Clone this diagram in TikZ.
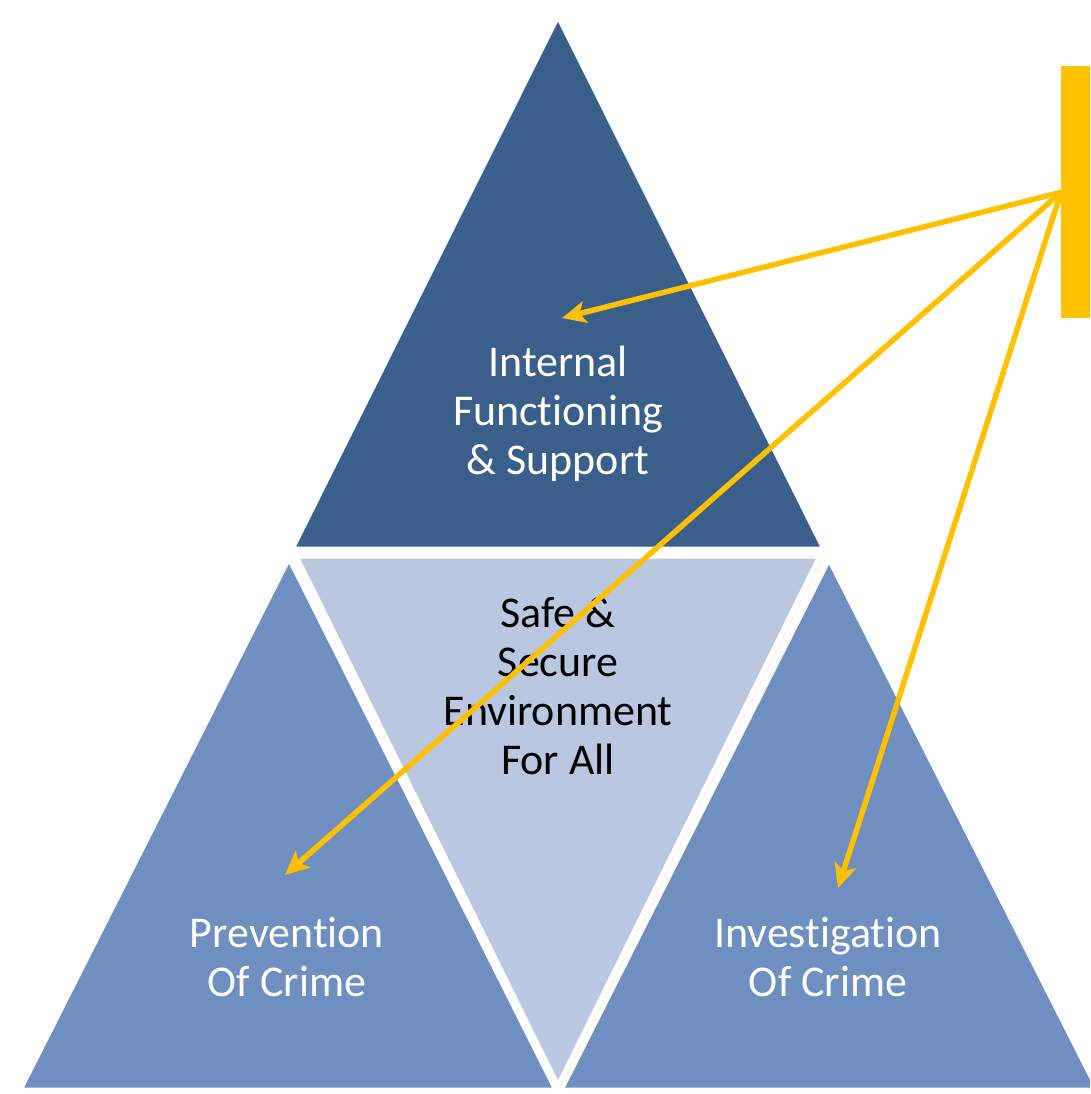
\documentclass[tikz,border=0pt]{standalone}
\usepackage{fontspec}
\setmainfont{Carlito}[RawFeature={-liga;-clig;-calt}]
\usetikzlibrary{arrows.meta,shadows}
\definecolor{topblue}{RGB}{58,95,139}
\definecolor{sideblue}{RGB}{111,143,192}
\definecolor{paleblue}{RGB}{185,199,224}
\definecolor{gold}{RGB}{255,192,0}
\tikzset{
  tri/.style={draw=white, line width=0.1cm, line join=miter,
    drop shadow={opacity=0.12, shadow xshift=0.05cm, shadow yshift=-0.05cm}},
  lbl/.style={align=center, font=\fontsize{25}{28}\selectfont},
  arr/.style={-{Stealth[length=0.48cm, width=0.44cm, inset=0.12cm]}, draw=gold, line width=0.11cm},
}
\begin{document}
\begin{tikzpicture}[x=0.02cm, y=-0.02cm]
\clip (0,0) rectangle (1090,1094);
\fill[white] (0,0) rectangle (1090,1094);

% the four triangles
\path[tri, fill=topblue] (558,16) -- (292,549) -- (824,549) -- cycle;
\path[tri, fill=sideblue] (289,558) -- (20,1090) -- (556,1090) -- cycle;
\path[tri, fill=sideblue] (829,559) -- (561,1090) -- (1098,1090) -- cycle;
\path[tri, fill=paleblue] (296,556) -- (820,556) -- (558,1086) -- cycle;

\node[lbl, text=white] (support) at (558,414) {Internal\\Functioning\\\& Support};
\node[lbl, text=black] (safe) at (558,686) {Safe \&\\Secure\\Environment\\For All};
\node[lbl, text=white] (prevent) at (287,957) {Prevention\\Of Crime};
\node[lbl, text=white] (invest) at (828,957) {Investigation\\Of Crime};

% callout bar and its arrows
\node[fill=gold, inner sep=0, minimum width=0.8cm, minimum height=5.04cm, anchor=north west] (callout) at (1061,66) {};

\coordinate (tipTop) at (562,318);
\coordinate (tipLeft) at (285,875);
\coordinate (tipRight) at (838,888);

\draw[arr] (callout.west) -- (tipTop);
\draw[arr] (callout.west) -- (tipLeft);
\draw[arr] (callout.west) -- (tipRight);

\end{tikzpicture}
\end{document}
